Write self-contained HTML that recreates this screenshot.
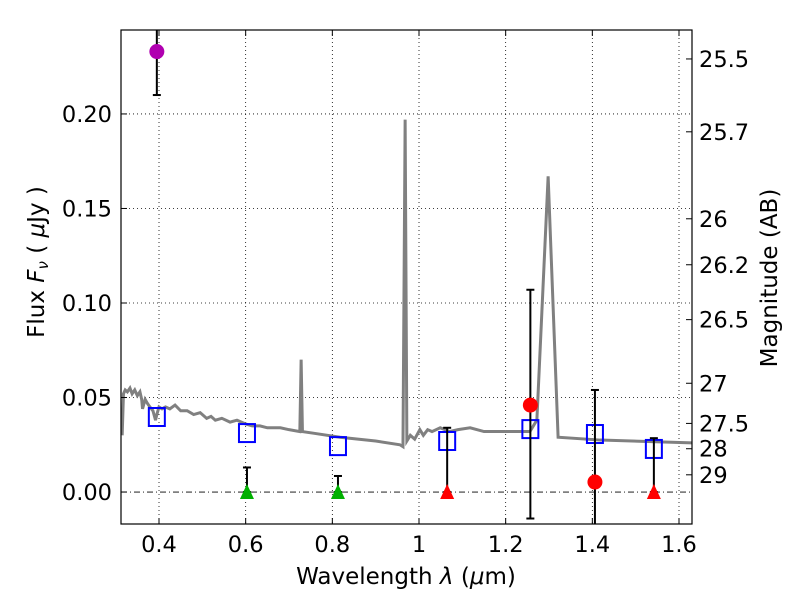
<!DOCTYPE html>
<html><head><meta charset="utf-8"><style>
body{margin:0;background:#fff}
svg text{font-family:"DejaVu Sans","Liberation Sans",sans-serif;fill:#000}
</style></head><body>
<svg id="chart" width="800" height="600" xmlns="http://www.w3.org/2000/svg"></svg>
<script>
const specWl=[0.315,0.318,0.322,0.327,0.333,0.338,0.344,0.35,0.356,0.36,0.362,0.368,0.373,0.379,0.386,0.392,0.395,0.4,0.407,0.415,0.425,0.437,0.45,0.465,0.48,0.495,0.51,0.52,0.53,0.545,0.564,0.58,0.6,0.615,0.633,0.65,0.68,0.7,0.725,0.728,0.731,0.76,0.818,0.9,0.956,0.963,0.968,0.972,0.98,0.99,1.002,1.01,1.02,1.03,1.049,1.07,1.09,1.118,1.15,1.187,1.22,1.256,1.272,1.298,1.321,1.418,1.631];
const specFlux=[0.030,0.052,0.054,0.053,0.055,0.052,0.054,0.051,0.053,0.049,0.044,0.049,0.047,0.045,0.043,0.038,0.041,0.045,0.044,0.045,0.044,0.046,0.043,0.043,0.041,0.042,0.039,0.040,0.038,0.039,0.037,0.038,0.036,0.035,0.035,0.034,0.034,0.033,0.032,0.070,0.032,0.031,0.029,0.027,0.025,0.024,0.197,0.027,0.030,0.028,0.033,0.030,0.033,0.032,0.034,0.032,0.033,0.034,0.032,0.032,0.032,0.032,0.038,0.167,0.029,0.0275,0.026];
const modelWl=[0.395,0.603,0.813,1.065,1.257,1.406,1.542];
const modelFlux=[0.0397,0.0312,0.0243,0.027,0.0333,0.0307,0.0228];
const detWl=[0.395,1.257,1.406];
const detFlux=[0.233,0.046,0.0053];
const detLo=[0.210,-0.014,-0.03];
const detHi=[0.26,0.107,0.054];
const detColor=["#b000b0","red","red"];
const limWl=[0.603,0.813,1.065,1.542];
const limHi=[0.013,0.0085,0.034,0.0285];
const limColor=["#00b000","#00b000","red","red"];
const xTicks=[0.4,0.6,0.8,1.0,1.2,1.4,1.6];
const xTickLabels=["0.4","0.6","0.8","1","1.2","1.4","1.6"];
const yTicks=[0,0.05,0.1,0.15,0.2];
const yTickLabels=["0.00","0.05","0.10","0.15","0.20"];
const magTicks=[25.5,25.7,26,26.2,26.5,27,27.5,28,29];

const L=121,R=692,T=30,B=524,x0=0.3123,x1=1.630,y0=-0.0169,y1=0.2444;
const X=v=>L+(v-x0)/(x1-x0)*(R-L);
const Y=v=>B-(v-y0)/(y1-y0)*(B-T);
const svg=document.getElementById('chart');
const NS="http://www.w3.org/2000/svg";
function mk(tag,attrs,parent){const e=document.createElementNS(NS,tag);for(const k in attrs)e.setAttribute(k,attrs[k]);(parent||svg).appendChild(e);return e;}
const defs=mk('defs',{});const cp=mk('clipPath',{id:'cp'},defs);mk('rect',{x:L,y:T,width:R-L,height:B-T},cp);
const plot=mk('g',{'clip-path':'url(#cp)'});


xTicks.forEach(t=>{const g=mk('line',{x1:X(t),x2:X(t),y1:T,y2:B,stroke:'#000','stroke-width':0.8,'stroke-dasharray':'1,3'},plot);

});
yTicks.forEach(t=>{const g=mk('line',{x1:L,x2:R,y1:Y(t),y2:Y(t),stroke:'#000','stroke-width':0.8,'stroke-dasharray':t===0?'6,3,1,3':'1,3'},plot);

});
const sp=mk('polyline',{points:specWl.map((w,i)=>X(w)+','+Y(specFlux[i])).join(' '),fill:'none',stroke:'#808080','stroke-width':3},plot);


modelWl.forEach((w,i)=>{const r=mk('rect',{x:X(w)-8,y:Y(modelFlux[i])-9,width:16,height:18,fill:'none',stroke:'blue','stroke-width':2},plot);

});
detWl.forEach((w,i)=>{const g=mk('g',{},plot);


const x=X(w);mk('line',{x1:x,x2:x,y1:Y(detLo[i]),y2:Y(detHi[i]),stroke:'#000','stroke-width':2},g);
[detLo[i],detHi[i]].forEach(v=>mk('line',{x1:x-4,x2:x+4,y1:Y(v),y2:Y(v),stroke:'#000','stroke-width':2},g));
mk('circle',{cx:x,cy:Y(detFlux[i]),r:7.5,fill:detColor[i]},g);});
limWl.forEach((w,i)=>{const g=mk('g',{},plot);


const x=X(w),y=Y(0),yh=Y(limHi[i]);
mk('line',{x1:x,x2:x,y1:y,y2:yh,stroke:'#000','stroke-width':2},g);
mk('line',{x1:x-4,x2:x+4,y1:yh,y2:yh,stroke:'#000','stroke-width':2},g);
mk('line',{x1:x-4,x2:x+4,y1:y,y2:y,stroke:'#000','stroke-width':2},g);
mk('polygon',{points:`${x},${y-8} ${x-7},${y+7} ${x+7},${y+7}`,fill:limColor[i]},g);});
const fr=mk('rect',{x:L,y:T,width:R-L,height:B-T,fill:'none',stroke:'#000','stroke-width':1.2});


xTicks.forEach((t,i)=>{mk('line',{x1:X(t),x2:X(t),y1:B,y2:B-6,stroke:'#000'});mk('line',{x1:X(t),x2:X(t),y1:T,y2:T+6,stroke:'#000'});
const tx=mk('text',{x:X(t),y:B+28,'font-size':22.5,'text-anchor':'middle'});tx.textContent=xTickLabels[i];

});
yTicks.forEach((t,i)=>{mk('line',{x1:L,x2:L+6,y1:Y(t),y2:Y(t),stroke:'#000'});
const tx=mk('text',{x:L-9,y:Y(t)+8,'font-size':22.5,'text-anchor':'end'});tx.textContent=yTickLabels[i];

});
magTicks.forEach(m=>{const f=Math.pow(10,(23.9-m)/2.5);const y=Y(f);
mk('line',{x1:R,x2:R-6,y1:y,y2:y,stroke:'#000'});
const tx=mk('text',{x:R+7,y:y+8,'font-size':22.5});tx.textContent=String(m);

});
let t=mk('text',{x:406,y:584,'font-size':23,'text-anchor':'middle'});t.innerHTML='Wavelength  <tspan font-style="italic">λ</tspan> (<tspan font-style="italic">μ</tspan>m)';


t=mk('text',{x:0,y:0,'font-size':23,'text-anchor':'middle',transform:'translate(44,262) rotate(-90)'});t.innerHTML='Flux  <tspan font-style="italic">F<tspan font-size="15" dy="4">ν</tspan></tspan><tspan dy="-4">  ( </tspan><tspan font-style="italic">μ</tspan>Jy )';


t=mk('text',{x:0,y:0,'font-size':23,'text-anchor':'middle',transform:'translate(777,278) rotate(-90)'});t.textContent='Magnitude (AB)';


</script>
</body></html>
